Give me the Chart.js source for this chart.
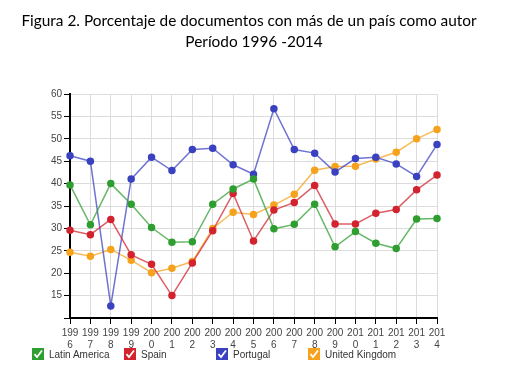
<!DOCTYPE html>
<html>
<head>
<meta charset="utf-8">
<script src="https://cdn.jsdelivr.net/npm/chart.js@4.4.1/dist/chart.umd.min.js"></script>
<style>
  html, body { margin: 0; padding: 0; background: #fff; }
  #wrap { position: relative; width: 508px; height: 367px; }
  .title { position: absolute; text-align: center; font: 15.4px Lato, sans-serif; color: #000; line-height: 21px; white-space: nowrap; }
  #t1 { left: 0; width: 498px; top: 10px; }
  #t2 { left: 0; width: 508px; top: 31px; }
  #legend { position: absolute; left: 32px; top: 348px; height: 13px; font: 10px "Liberation Sans", Arial, sans-serif; color: #333; }
  .item { position: absolute; top: 0; white-space: nowrap; }
  .box { position: absolute; left: 0; top: 0; width: 12px; height: 12px; }
  .box svg { display: block; }
  .lbl { position: absolute; left: 17px; top: 0px; line-height: 13px; }
</style>
</head>
<body>
<div id="wrap">
  <canvas id="lineCanvas" width="508" height="367"></canvas>
  <div class="title" id="t1">Figura 2. Porcentaje de documentos con más de un país como autor</div>
  <div class="title" id="t2">Período 1996 -2014</div>
  <div id="legend"></div>
</div>
<script>
const years = ['1996','1997','1998','1999','2000','2001','2002','2003','2004','2005','2006','2007','2008','2009','2010','2011','2012','2013','2014'];
const latinAmerica = [39.7,30.8,40.0,35.4,30.2,26.9,27.0,35.4,38.8,41.0,29.9,30.9,35.4,25.9,29.3,26.7,25.5,32.1,32.2];
const spain = [29.6,28.6,32.0,24.1,22.0,15.0,22.3,29.5,37.8,27.2,34.1,35.8,39.6,31.0,31.0,33.4,34.2,38.6,41.9];
const portugal = [46.2,45.0,12.7,41.0,45.9,42.9,47.6,47.9,44.2,42.1,56.7,47.6,46.8,42.6,45.6,45.9,44.4,41.6,48.7];
const unitedKingdom = [24.7,23.8,25.3,22.9,20.1,21.1,22.6,30.0,33.6,33.1,35.2,37.6,43.0,43.8,43.9,45.5,47.0,50.0,52.1];
const yTicks = [15,20,25,30,35,40,45,50,55,60];

const seriesNames = ['Latin America','Spain','Portugal','United Kingdom'];
const seriesData = [latinAmerica, spain, portugal, unitedKingdom];
const seriesColors = ['#2f9e30','#d2232f','#3a42c0','#f6a21c'];

function mkSet(i) {
    return {
        label: seriesNames[i],
        data: seriesData[i],
        borderColor: seriesColors[i] + 'bb',
        backgroundColor: seriesColors[i],
        pointBackgroundColor: seriesColors[i],
        pointBorderColor: seriesColors[i],
        borderWidth: 1.5,
        pointRadius: 3,
        tension: 0
    };
}

document.addEventListener("DOMContentLoaded", function(e) {
    const ctx = document.getElementById('lineCanvas');
    new Chart(ctx, {
        type: 'line',
        data: {
            labels: years,
            datasets: [mkSet(0), mkSet(1), mkSet(2), mkSet(3)]
        },
        options: {
            responsive: false,
            animation: false,
            layout: { padding: { left: 0, top: 94, right: 71, bottom: 13 } },
            plugins: {
                legend: { display: false },
                tooltip: { enabled: false },
                title: { display: false }
            },
            scales: {
                x: {
                    offset: false,
                    border: { color: '#000', width: 2 },
                    grid: { color: '#dcdcdc', tickColor: '#000', tickLength: 6 },
                    ticks: {
                        color: '#444',
                        padding: 3,
                        maxRotation: 0,
                        autoSkip: false,
                        font: { family: 'Liberation Sans', size: 10, lineHeight: 1.2 },
                        callback: function(v, i) { const s = years[i]; return [s.slice(0, 3), s.slice(3)]; }
                    }
                },
                y: {
                    min: 10,
                    max: 60,
                    afterFit: function(s) { s.width = 70; },
                    afterBuildTicks: function(s) { s.ticks = [10].concat(yTicks).map(v => ({ value: v })); },
                    border: { color: '#000', width: 2 },
                    grid: { color: '#dcdcdc', tickColor: '#000', tickLength: 6 },
                    ticks: {
                        color: '#444',
                        padding: 2,
                        font: { family: 'Liberation Sans', size: 10 },
                        callback: function(v) { return v === 10 ? '' : v; }
                    }
                }
            }
        }
    });

    const legend = document.getElementById('legend');
    seriesNames.forEach(function(name, i) {
        const item = document.createElement('div');
        item.className = 'item';
        item.style.left = (i * 92) + 'px';
        item.innerHTML = '<div class="box"><svg width="12" height="12"><rect width="12" height="12" fill="' + seriesColors[i] +
            '"/><path d="M2.5 6.2 L5 9 L10 2.5" stroke="#fff" stroke-width="1.8" fill="none"/></svg></div>' +
            '<div class="lbl">' + name + '</div>';
        legend.appendChild(item);
    });
});
</script>
</body>
</html>
